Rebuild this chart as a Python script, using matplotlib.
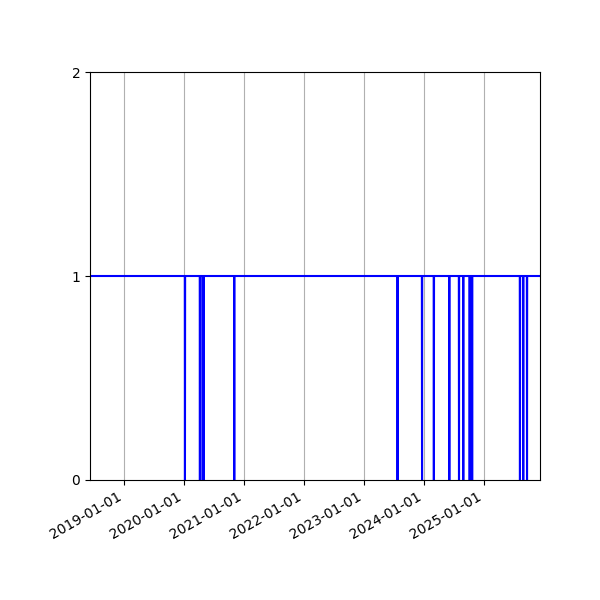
import matplotlib
matplotlib.use("Agg")
import matplotlib.pyplot as plt
import matplotlib.dates as mdates
import pandas as pd

# status series: 1 = up, 0 = down on the listed days
start_date = "2018-06-08"
end_date = "2025-12-07"
down_dates = [
    "2020-01-07", "2020-04-07", "2020-04-24", "2020-04-30", "2020-11-02",
    "2023-07-24", "2023-12-20", "2024-03-01", "2024-06-03", "2024-08-01",
    "2024-08-27", "2024-10-05", "2024-10-12", "2024-10-20",
    "2025-08-07", "2025-08-27", "2025-09-19",
]

days = pd.date_range(start_date, end_date, freq="D")
status = pd.Series(1, index=days)
status[pd.to_datetime(down_dates)] = 0

fig, ax = plt.subplots(figsize=(6, 6), dpi=100)
ax.plot(status.index, status.values, color="b")

ax.set_xlim(pd.Timestamp(start_date), pd.Timestamp(end_date))
ax.set_ylim(0, 2)
ax.set_yticks([0, 1, 2])
ax.xaxis.set_major_locator(mdates.YearLocator())
ax.xaxis.set_major_formatter(mdates.DateFormatter("%Y-%m-%d"))
ax.grid(True, axis="x")

fig.autofmt_xdate()
fig.subplots_adjust(left=0.15, right=0.9, top=0.88, bottom=0.2)
fig.savefig("out.png")
